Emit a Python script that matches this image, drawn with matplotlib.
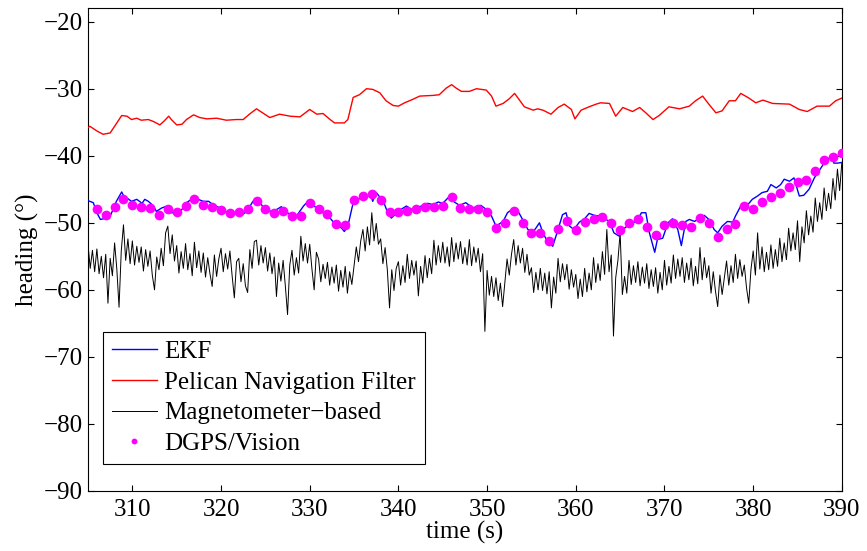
import numpy as np
import matplotlib
matplotlib.use("Agg")
import matplotlib.pyplot as plt

plt.rcParams['font.family'] = ['Liberation Serif', 'DejaVu Serif']

# DGPS/Vision reference heading, one sample per second
dgps_t = list(range(306, 391))
dgps_h = [-48.0, -48.8, -47.7, -46.5, -47.3, -47.6, -47.8, -48.9, -47.9, -48.4,
          -47.5, -46.5, -47.3, -47.6, -48.1, -48.5, -48.4, -48.0, -46.8, -47.9,
          -48.5, -48.3, -49.0, -49.0, -47.1, -48.0, -48.7, -50.2, -50.3, -46.6,
          -46.0, -45.7, -46.6, -48.4, -48.4, -48.2, -48.0, -47.6, -47.6, -47.5,
          -46.1, -47.8, -48.0, -47.9, -48.4, -50.8, -50.1, -48.3, -50.1, -51.5,
          -51.5, -52.7, -51.0, -49.7, -51.1, -49.9, -49.4, -49.2, -50.1, -51.1,
          -50.0, -49.5, -50.6, -51.8, -50.4, -50.1, -50.4, -50.7, -49.3, -50.1,
          -52.1, -50.9, -50.2, -47.5, -48.0, -46.9, -46.1, -45.6, -44.7, -43.9,
          -43.6, -42.3, -40.7, -40.2, -39.6]

# Pelican navigation filter
pelican_t = [305.0, 305.2, 306.0, 306.7, 307.5, 308.0, 308.8, 309.4, 309.9, 310.5,
             311.0, 311.8, 312.4, 313.1, 313.6, 314.1, 314.4, 315.0, 315.6, 316.1,
             316.9, 317.6, 318.4, 319.5, 320.6, 321.7, 322.5, 323.2, 324.0, 324.8,
             325.5, 326.6, 327.8, 328.9, 330.0, 330.8, 331.5, 332.3, 332.8, 333.9,
             334.3, 334.9, 335.6, 336.4, 337.1, 337.9, 338.6, 339.4, 340.0, 340.7,
             341.6, 342.4, 343.9, 344.6, 345.4, 346.0, 346.5, 347.1, 348.0, 348.8,
             349.9, 350.5, 351.0, 351.8, 352.5, 353.1, 353.6, 354.2, 355.2, 355.7,
             356.3, 357.2, 358.0, 358.7, 359.5, 359.9, 360.6, 361.5, 362.3, 362.8,
             363.8, 364.5, 365.3, 366.4, 367.2, 367.9, 368.7, 369.4, 370.5, 371.7,
             372.8, 373.5, 374.3, 375.0, 375.8, 376.5, 377.3, 378.0, 378.6, 379.4,
             380.3, 381.1, 382.2, 384.1, 385.2, 386.1, 387.2, 388.6, 389.3, 390.0]
pelican_h = [-35.8, -35.6, -36.3, -36.8, -36.6, -35.6, -34.0, -34.1, -34.6, -34.4,
             -34.7, -34.6, -34.9, -35.4, -34.8, -34.1, -34.6, -35.4, -35.3, -34.6,
             -33.9, -34.3, -34.5, -34.4, -34.7, -34.6, -34.6, -33.8, -33.0, -33.7,
             -34.3, -33.8, -34.1, -34.2, -33.1, -33.8, -33.7, -34.6, -35.1, -35.1,
             -34.6, -31.3, -30.9, -30.0, -30.1, -30.6, -31.8, -32.5, -32.6, -32.1,
             -31.6, -31.1, -31.0, -30.9, -29.9, -29.4, -29.9, -30.4, -30.4, -30.0,
             -30.2, -31.1, -32.6, -32.2, -31.5, -30.7, -31.6, -32.7, -33.2, -33.0,
             -33.2, -33.8, -32.8, -32.3, -33.1, -34.5, -33.2, -32.7, -32.3, -32.1,
             -32.2, -34.1, -32.8, -33.4, -32.8, -33.6, -34.6, -34.0, -32.7, -33.0,
             -32.6, -31.8, -31.1, -32.3, -33.6, -33.3, -31.8, -31.8, -30.7, -31.3,
             -32.1, -31.7, -32.2, -32.3, -33.1, -33.4, -32.6, -32.6, -31.8, -31.4]

# EKF estimate
ekf_t = [305.0, 305.2, 305.6, 306.0, 306.4, 307.1, 307.5, 307.9, 308.2, 308.8,
         309.2, 309.5, 309.9, 310.5, 311.1, 311.4, 311.8, 312.4, 312.7, 313.3,
         313.9, 314.4, 315.0, 315.6, 316.1, 316.9, 317.4, 318.0, 318.6, 319.1,
         319.9, 320.6, 321.4, 322.3, 322.9, 323.6, 324.2, 324.7, 325.5, 326.3,
         326.8, 327.4, 328.5, 329.3, 329.8, 330.4, 331.1, 331.5, 332.1, 332.8,
         333.6, 333.9, 334.3, 334.9, 335.6, 336.4, 336.9, 337.1, 337.5, 338.3,
         338.8, 339.2, 339.6, 340.3, 340.9, 341.5, 342.0, 342.6, 343.3, 343.9,
         344.5, 345.0, 345.8, 346.3, 346.9, 347.6, 348.4, 349.0, 349.3, 349.9,
         350.5, 351.0, 351.8, 352.3, 352.9, 353.5, 354.0, 354.6, 355.2, 355.5,
         355.9, 356.3, 356.8, 357.4, 358.0, 358.5, 358.9, 359.3, 359.8, 360.4,
         361.0, 361.5, 362.1, 362.8, 363.4, 363.8, 364.3, 364.9, 365.3, 365.8,
         366.4, 367.0, 367.4, 367.9, 368.3, 368.9, 369.2, 369.8, 370.4, 370.9,
         371.5, 371.9, 372.4, 372.8, 373.4, 373.9, 374.5, 375.0, 375.6, 376.0,
         376.5, 377.1, 377.7, 378.0, 378.6, 379.4, 379.9, 380.5, 381.0, 381.6,
         382.0, 382.6, 383.1, 383.5, 384.1, 384.6, 385.2, 385.7, 386.3, 386.9,
         387.4, 388.0, 388.6, 388.9, 389.1, 389.5, 390.0]
ekf_h = [-46.7, -46.8, -47.0, -48.5, -49.5, -49.3, -49.0, -47.8, -46.8, -45.4,
         -46.5, -46.4, -46.8, -46.5, -47.1, -46.5, -46.8, -47.5, -48.3, -47.8,
         -47.5, -48.5, -48.5, -48.0, -47.0, -46.3, -46.5, -46.8, -46.8, -47.3,
         -47.8, -48.4, -48.5, -48.9, -48.3, -46.8, -46.5, -47.6, -48.3, -48.0,
         -47.6, -48.5, -49.0, -47.5, -46.8, -47.5, -47.9, -48.5, -49.0, -50.1,
         -50.8, -51.3, -50.5, -47.0, -46.4, -46.0, -45.9, -46.8, -45.5, -46.8,
         -48.5, -49.3, -48.8, -48.0, -47.5, -48.0, -47.8, -47.5, -47.1, -47.3,
         -46.9, -47.1, -46.0, -46.9, -47.4, -47.0, -47.8, -47.5, -47.4, -48.0,
         -49.0, -50.5, -49.8, -48.5, -47.9, -48.3, -49.5, -51.0, -51.3, -50.8,
         -50.0, -51.5, -52.8, -53.5, -51.0, -48.8, -48.5, -50.5, -51.0, -49.9,
         -49.4, -48.6, -48.9, -49.0, -49.5, -49.8, -51.5, -52.0, -51.0, -50.5,
         -50.1, -49.5, -48.5, -48.5, -51.5, -54.4, -52.5, -52.3, -50.0, -49.4,
         -51.0, -53.4, -49.8, -49.5, -49.8, -49.3, -48.9, -49.5, -51.0, -51.5,
         -50.5, -49.8, -49.9, -49.0, -47.5, -47.3, -46.5, -46.0, -45.5, -45.3,
         -44.3, -44.8, -44.3, -43.5, -43.8, -43.3, -46.0, -45.9, -45.0, -43.3,
         -42.3, -41.1, -40.3, -40.2, -41.1, -41.1, -41.0]

# Magnetometer-based heading, 4 samples per second from 305 s to 390 s
mag_h = [
    -53.2, -56.8, -54.1, -57.3, -53.9, -57.6, -55.0, -58.2, -54.7, -62.0, -55.3, -57.9,
    -53.0, -56.9, -62.6, -54.2, -50.3, -55.6, -52.4, -56.1, -52.7, -56.3, -53.5, -55.9,
    -53.6, -57.2, -54.0, -56.5, -54.2, -57.8, -60.0, -55.1, -57.0, -53.8, -56.4, -51.5,
    -50.5, -54.6, -51.8, -55.7, -53.4, -57.5, -54.3, -56.8, -53.1, -57.0, -54.6, -57.9,
    -52.9, -56.7, -54.2, -57.4, -54.5, -58.1, -55.2, -57.6, -59.5, -54.8, -58.0, -55.4,
    -53.8, -57.3, -54.6, -56.9, -54.2, -57.9, -61.2, -55.8, -55.3, -58.8, -56.1, -59.4,
    -60.4, -54.0, -56.8, -52.8, -52.6, -56.3, -53.4, -56.0, -53.7, -57.2, -54.5, -57.6,
    -55.1, -61.0, -56.0, -58.7, -55.6, -59.4, -63.7, -56.3, -54.1, -57.8, -55.2, -57.5,
    -52.0, -55.7, -53.1, -56.0, -53.2, -56.9, -60.0, -54.4, -55.4, -58.8, -56.2, -58.3,
    -55.9, -59.3, -56.6, -59.0, -56.3, -60.2, -57.1, -59.6, -56.5, -60.5, -57.3, -59.2,
    -56.4, -53.6, -55.8, -52.7, -51.0, -54.2, -50.6, -53.3, -48.5, -52.7, -50.1, -53.2,
    -52.4, -56.1, -53.7, -57.0, -62.7, -57.0, -60.1, -56.8, -55.8, -59.3, -56.4, -58.9,
    -54.7, -58.3, -55.6, -57.8, -55.7, -60.9, -56.5, -59.0, -54.9, -58.2, -55.3, -57.6,
    -52.6, -56.3, -53.4, -55.9, -52.9, -56.0, -53.6, -56.5, -52.2, -55.8, -53.0, -55.4,
    -52.8, -56.1, -53.7, -56.3, -52.5, -56.4, -53.6, -55.9, -53.8, -57.3, -54.6, -66.2,
    -57.1, -60.8, -58.0, -61.0, -58.2, -61.6, -59.0, -62.5, -58.9, -55.4, -57.8, -54.7,
    -52.5, -56.3, -53.4, -56.0, -53.8, -57.4, -54.7, -57.8, -56.7, -60.4, -57.4, -60.0,
    -56.8, -60.1, -57.5, -60.6, -57.3, -62.7, -58.1, -60.5, -55.3, -58.8, -56.1, -58.5,
    -56.2, -59.9, -57.0, -59.6, -57.7, -61.3, -58.4, -61.0, -56.8, -60.3, -57.5, -60.0,
    -55.2, -58.9, -56.1, -58.6, -54.3, -57.7, -51.0, -57.3, -54.8, -66.9, -58.2, -55.6,
    -51.5, -60.7, -58.0, -60.5, -55.6, -59.2, -56.4, -58.9, -55.8, -59.4, -56.6, -59.0,
    -56.1, -59.8, -57.0, -59.5, -56.7, -60.5, -57.4, -60.0, -55.6, -59.3, -56.5, -59.0,
    -54.8, -58.3, -55.4, -58.0, -55.2, -58.9, -56.0, -58.5, -55.3, -59.4, -56.5, -59.1,
    -53.7, -58.5, -55.2, -58.2, -56.4, -60.5, -57.3, -60.2, -62.5, -57.8, -60.7, -58.2,
    -55.7, -59.3, -56.4, -58.9, -54.7, -58.3, -55.5, -58.0, -56.3, -59.7, -62.0, -57.0,
    -54.2, -57.8, -51.5, -56.9, -53.6, -57.3, -54.4, -57.0, -53.3, -56.8, -54.0, -56.5,
    -52.3, -55.8, -53.0, -55.5, -50.8, -54.2, -51.5, -54.0, -49.7, -55.8, -50.6, -53.0,
    -48.2, -51.8, -49.0, -51.4, -46.3, -49.8, -47.0, -49.5, -44.8, -48.2, -45.6, -47.9,
    -43.4, -46.6, -42.0, -45.2, -41.0]
mag_t = np.linspace(305, 390, len(mag_h))

fig = plt.figure(figsize=(8.67, 5.51), dpi=100)
ax = fig.add_axes([0.1015, 0.109, 0.8695, 0.876])

ax.plot(ekf_t, ekf_h, color='#0000ff', lw=1.0, label='EKF', zorder=3)
ax.plot(pelican_t, pelican_h, color='#ff0000', lw=1.0, label='Pelican Navigation Filter', zorder=3)
ax.plot(mag_t, mag_h, color='black', lw=0.7, label='Magnetometer\u2212based', zorder=2)
ax.plot(dgps_t, dgps_h, 'o', color='#ff00ff', markersize=7, markeredgewidth=0,
        label='DGPS/Vision', zorder=4)

ax.set_xlim(305, 390)
ax.set_ylim(-90, -18)
ax.set_xticks(np.arange(310, 391, 10))
ax.set_yticks(np.arange(-90, -19, 10))
ax.tick_params(direction='in', top=True, right=True, length=4, width=0.8,
               labelsize=18)
ax.tick_params(axis='x', pad=6)
ax.tick_params(axis='y', pad=4)
for s in ax.spines.values():
    s.set_linewidth(0.8)

ax.set_xlabel('time (s)', fontsize=18, labelpad=0)
ax.set_ylabel('heading (\u00b0)', fontsize=18, labelpad=3)

leg = ax.legend(loc='lower left', bbox_to_anchor=(0.02, 0.056), fontsize=18,
                fancybox=False, framealpha=1, edgecolor='black',
                handlelength=1.8, handletextpad=0.3, labelspacing=0.33,
                borderpad=0.35, borderaxespad=0, markerscale=0.6)
leg.get_frame().set_linewidth(0.8)

fig.savefig('out.png', dpi=100)
